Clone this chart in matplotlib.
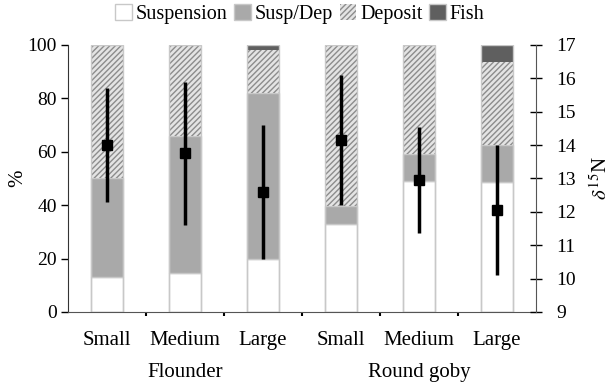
import numpy as np
import matplotlib.pyplot as plt
from matplotlib.patches import Patch

plt.rcParams['font.family'] = ['Liberation Serif', 'DejaVu Serif']
plt.rcParams['mathtext.fontset'] = 'stix'
plt.rcParams['hatch.linewidth'] = 1.0

sizes = ['Small', 'Medium', 'Large', 'Small', 'Medium', 'Large']
species = ['Flounder', 'Round goby']

# diet composition (%) per size class
suspension = [13, 14.5, 20, 33, 49, 48.5]
susp_dep = [37, 51.5, 62, 6.5, 10, 14]
deposit = [50, 34, 16, 60.5, 41, 31]
fish = [0, 0, 2, 0, 0, 6.5]

# d15N mean and sd
d15n = [14.0, 13.75, 12.6, 14.15, 12.95, 12.05]
d15n_sd = [1.7, 2.15, 2.0, 1.95, 1.6, 1.95]

x = np.arange(len(sizes))
w = 0.42

fig = plt.figure(figsize=(6.12, 3.87), dpi=100)
ax = fig.add_axes([0.111, 0.194, 0.765, 0.69])

b1 = np.array(suspension)
b2 = b1 + np.array(susp_dep)
b3 = b2 + np.array(deposit)
ax.bar(x, suspension, w, color='white', edgecolor='#c8c8c8', lw=1)
ax.bar(x, susp_dep, w, bottom=b1, color='#a9a9a9', edgecolor='#c8c8c8', lw=1)
ax.bar(x, deposit, w, bottom=b2, color='#e4e4e4', edgecolor='#8c8c8c', lw=0, hatch='//////')
ax.bar(x, fish, w, bottom=b3, color='#5f5f5f', edgecolor='#c8c8c8', lw=0)
ax.bar(x, b3 + np.array(fish), w, fill=False, edgecolor='#c8c8c8', lw=1)

ax.set_xlim(-0.5, 5.5)
ax.set_ylim(0, 100)
ax.set_yticks(range(0, 101, 20))
ax.set_ylabel('%', fontsize=15, va='center')
ax.yaxis.set_label_coords(-0.107, 0.5)
ax.set_xticks(x)
ax.set_xticklabels(sizes, fontsize=15)
ax.tick_params(axis='x', length=0, pad=14)
ax.set_xticks(np.arange(0.5, 5, 1), minor=True)
ax.tick_params(axis='x', which='minor', length=3, direction='out', width=1.5)
ax.tick_params(axis='y', labelsize=14, direction='out', length=5, width=1, pad=3)
for s in ['top', 'right']:
    ax.spines[s].set_visible(False)
ax.spines['left'].set_color('#333333')
ax.spines['bottom'].set_color('#555555')

for i, name in enumerate(species):
    ax.text(1 + 3 * i, -0.225, name, transform=ax.get_xaxis_transform(),
            ha='center', va='center', fontsize=15)

ax2 = ax.twinx()
ax2.set_ylim(9, 17)
ax2.set_yticks(range(9, 18))
ax2.errorbar(x, d15n, yerr=d15n_sd, fmt='s', color='black', ms=7.5,
             elinewidth=2.5, capsize=0)
ax2.tick_params(axis='y', labelsize=14, direction='inout', length=9, width=1, pad=10)
ax2.set_ylabel(r'$\delta^{15}$N', fontsize=15, rotation=90, labelpad=10)
for s in ['top', 'left', 'bottom']:
    ax2.spines[s].set_visible(False)
ax2.spines['right'].set_color('#555555')

handles = [Patch(facecolor='white', edgecolor='#c8c8c8'),
           Patch(facecolor='#a9a9a9', edgecolor='#c8c8c8'),
           Patch(facecolor='#e4e4e4', edgecolor='#8c8c8c', hatch='//////', lw=0),
           Patch(facecolor='#5f5f5f', edgecolor='#c8c8c8')]
fig.legend(handles, ['Suspension', 'Susp/Dep', 'Deposit', 'Fish'],
           loc='center', bbox_to_anchor=(0.49, 0.963), ncol=4, frameon=False,
           fontsize=14.5, handlelength=0.8, handleheight=0.8, handletextpad=0.2,
           columnspacing=0.35)

fig.savefig('out.png', dpi=100)
